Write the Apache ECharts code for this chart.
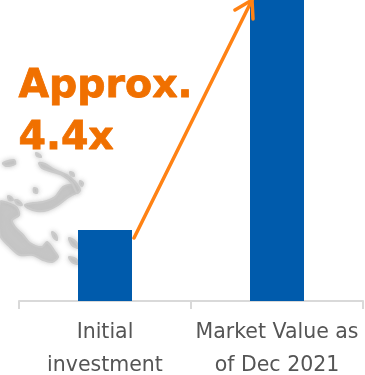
<!DOCTYPE html>
<html>
<head>
<meta charset="utf-8">
<style>html,body{margin:0;padding:0;background:#fff}#chart{width:365px;height:375px}</style>
<script src="https://cdn.jsdelivr.net/npm/echarts@6/dist/echarts.min.js"></script>
</head>
<body>
<div id="chart"></div>
<script>
// Investment growth: initial stake against market value
const categories = ['Initial\ninvestment', 'Market Value as\nof Dec 2021'];
const values = [1, 4.4];
const headline = 'Approx.\n4.4x';

// Backdrop islands, outlined in page pixels
const islands = [
  [[0,202],[8,203],[17,208],[19,215],[12,220],[15,227],[23,235],[30,243],[42,247],[47,242],[55,252],[58,257],[52,262],[43,260],[33,255],[20,255],[10,247],[0,235]],
  [[25,205],[33,203],[43,202],[55,197],[63,187],[72,185],[77,192],[72,195],[67,198],[58,205],[48,210],[37,211],[28,208]],
  [[39,163],[45,164],[55,170],[67,175],[75,182],[80,190],[77,193],[72,183],[62,175],[50,171],[42,168]],
  [[3,163],[14,160],[15,164],[6,166]],
  [[34,188],[37,189],[37,193],[34,192]],
  [[8,196],[11,197],[13,200],[9,200]],
  [[15,200],[19,201],[22,205],[17,204]],
  [[52,232],[56,235],[57,240],[54,238]],
  [[69,238],[76,242],[78,248],[72,245]],
  [[69,257],[76,259],[78,264],[72,262]],
  [[36,153],[40,155],[41,157],[37,156]],
  [[70,172],[73,173],[74,176],[71,175]],
  [[80,181],[83,183],[82,186],[80,184]]
];

const chart = echarts.init(document.getElementById('chart'));
chart.setOption({
  animation: false,
  grid: { left: 19, right: 2, top: -11, bottom: 74, outerBoundsMode: 'none' },
  xAxis: {
    type: 'category',
    data: categories,
    axisLine: { lineStyle: { color: '#d9d9d9', width: 2 } },
    axisTick: { show: true, length: 8, lineStyle: { color: '#d9d9d9', width: 2 } },
    axisLabel: { color: '#555555', fontFamily: 'DejaVu Sans', fontSize: 20.5, lineHeight: 33, margin: 15, interval: 0 }
  },
  yAxis: { type: 'value', min: 0, max: 4.4, show: false, splitLine: { show: false } },
  series: [{
    type: 'bar',
    data: values,
    barWidth: 54,
    itemStyle: { color: '#005bac' },
    z: 5
  }],
  graphic: [
    ...islands.map(points => ({
      type: 'polygon',
      z: 0,
      shape: { points, smooth: 0.3 },
      style: { fill: '#c6c6c6', stroke: '#cacaca', lineWidth: 2, shadowBlur: 5, shadowColor: 'rgba(190,190,190,0.8)' }
    })),
    {
      type: 'text', z: 10, left: 18, top: 61,
      style: { text: headline, fill: '#f07000', stroke: '#f07000', lineWidth: 0.8, fontFamily: 'DejaVu Sans', fontWeight: 'bold', fontSize: 39.5, lineHeight: 52 }
    },
    {
      type: 'polyline', z: 10,
      shape: { points: [[134, 238], [252, 0]] },
      style: { stroke: '#ff8214', lineWidth: 3.5, lineCap: 'round', fill: null }
    },
    {
      type: 'polyline', z: 10,
      shape: { points: [[235, 10], [252, 0], [253, 19]] },
      style: { stroke: '#ff8214', lineWidth: 3.5, lineCap: 'round', lineJoin: 'round', fill: null }
    }
  ]
});
</script>
</body>
</html>
